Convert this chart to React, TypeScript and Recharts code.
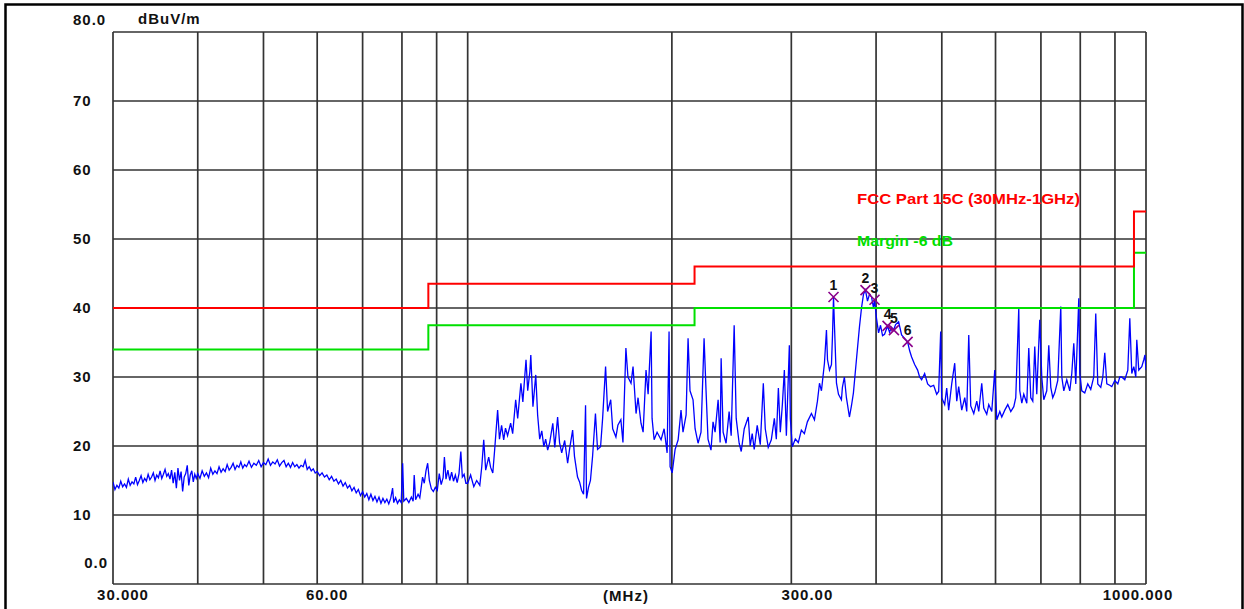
import React from "react";
import {
  ComposedChart,
  Line,
  Scatter,
  XAxis,
  YAxis,
  CartesianGrid,
} from "recharts";

// frequency axis (MHz, log) and level axis (dBuV/m)
const freqTicks = [30, 40, 50, 60, 70, 80, 90, 100, 200, 300, 400, 500, 600, 700, 800, 900, 1000];
const freqLabels: Record<number, string> = { 30: "30.000", 60: "60.00", 300: "300.00", 1000: "1000.000" };
const levelTicks = [0, 10, 20, 30, 40, 50, 60, 70, 80];

// FCC Part 15C limit and the -6 dB margin line
const limitFreq = [30, 87.5, 87.5, 216, 216, 960, 960, 1000];
const limitLevel = [40, 40, 43.5, 43.5, 46, 46, 54, 54];
const marginLevel = [34, 34, 37.5, 37.5, 40, 40, 48, 48];

// measured peaks
const markerNo = ["1", "2", "3", "4", "5", "6"];
const markerFreq = [346.2, 385.9, 397.9, 415.9, 425.0, 445.2];
const markerLevel = [41.6, 42.6, 41.2, 37.4, 36.8, 35.1];

// scan trace
const traceFreq = [
  30.0, 30.2, 30.4, 30.6, 30.8, 31.0, 31.2, 31.4, 31.6, 31.8, 32.0, 32.2, 32.4, 32.6, 32.8, 33.0,
  33.2, 33.4, 33.6, 33.8, 34.0, 34.2, 34.4, 34.6, 34.8, 35.0, 35.2, 35.4, 35.6, 35.8, 36.0, 36.2,
  36.4, 36.6, 36.8, 37.0, 37.2, 37.4, 37.6, 37.8, 38.0, 38.2, 38.4, 38.6, 38.8, 39.0, 39.2, 39.4,
  39.6, 39.8, 40.0,
  40.3, 40.6, 40.9, 41.2, 41.5, 41.8, 42.1, 42.4, 42.7, 43.0, 43.3, 43.6, 43.9, 44.2, 44.5, 44.8,
  45.1, 45.4, 45.7, 46.0, 46.3, 46.6, 46.9, 47.2, 47.6, 48.0, 48.4, 48.8, 49.2, 49.6, 50.0, 50.4,
  50.8, 51.2, 51.6, 52.0, 52.4, 52.8, 53.2, 53.6, 54.0, 54.4, 54.8, 55.2, 55.6, 56.0, 56.4, 56.8,
  57.2, 57.6, 58.0, 58.4, 58.8, 59.2, 59.6, 60.0,
  60.5, 61.0, 61.5, 62.0, 62.5, 63.0, 63.5, 64.0, 64.5, 65.0, 65.5, 66.0, 66.5, 67.0, 67.5, 68.0,
  68.5, 69.0, 69.5, 70.0, 70.5, 71.0, 71.5, 72.0, 72.5, 73.0, 73.5, 74.0, 74.5, 75.0, 75.5, 76.0,
  76.5, 77.0, 77.5, 77.8, 78.3, 78.8, 79.3, 79.8,
  80.2, 80.5, 81.2, 81.9, 82.6, 83.1, 83.4,
  83.8, 84.5, 85.0, 85.3, 85.8, 86.3, 86.8, 87.3, 87.8, 88.4, 89.0, 89.6, 90.2, 90.8, 91.4, 92.0,
  92.4, 92.9, 93.5, 94.1, 94.7, 95.3, 95.9, 96.5, 97.1, 97.7, 98.2, 98.8, 99.4, 100.0,
  101.0, 102.1, 103.1, 104.2, 104.9, 105.6, 106.3, 107.4, 108.1, 108.9, 109.6, 110.7, 111.4, 112.2,
  113.0, 113.7, 114.5, 115.7, 116.5, 117.7, 118.5, 119.8, 120.6, 121.9, 122.6, 123.5, 123.9, 124.8,
  126.0, 126.8, 127.7, 128.6, 129.5, 130.3, 131.2, 132.1, 133.5, 134.4, 135.7, 136.6, 137.6, 139.0,
  140.4, 141.3, 142.8, 143.7, 145.2, 146.2, 147.2, 148.2, 149.2, 149.7, 150.7, 151.7, 152.8, 154.3,
  155.4, 157.0, 158.1, 159.7, 160.8, 162.5, 163.6, 165.4, 166.5, 168.2, 169.4, 171.1, 172.3, 174.1,
  175.3, 177.1, 178.3, 180.1, 181.4, 183.2, 184.5, 186.4, 187.0, 188.3, 190.2, 192.8, 194.8, 196.8,
  198.1, 198.8, 200.2, 202.2, 204.3, 206.3, 207.7, 209.9, 211.3, 212.7, 214.9, 216.4, 218.6, 220.8,
  223.1, 224.6, 226.1, 228.4, 230.0, 231.6, 234.0, 235.6, 236.4, 238.0, 240.4, 242.9, 244.6, 247.1,
  248.8, 251.3, 253.1, 255.7, 259.2, 260.9, 262.7, 264.5, 267.2, 270.0, 272.8, 274.6, 277.4, 280.3,
  283.2, 285.1, 287.1, 289.0, 291.0, 293.0, 295.0, 298.0, 299.0, 301.0, 304.1, 307.2, 310.4, 313.6,
  316.8, 321.2, 324.5, 327.8, 330.1, 332.3, 335.7, 338.0, 339.2, 341.5, 343.8, 345.0, 346.2, 347.3,
  349.7, 352.1, 355.6, 356.8, 359.2, 361.7, 365.4, 367.9, 370.4, 374.2, 378.1, 380.7, 383.3, 385.9,
  388.5, 391.2, 393.9, 396.5, 397.9, 400.6, 403.4, 406.1, 408.9, 411.7, 414.5, 415.9, 418.7, 421.6,
  424.5, 427.4, 431.8, 436.2, 440.7, 445.2, 448.3, 451.3, 456.0, 460.6, 463.7, 466.9, 471.7, 476.5,
  481.4, 486.4, 491.4, 494.7, 498.1, 499.8, 504.9, 508.4, 511.8, 517.1, 522.4, 526.0, 529.5, 535.0,
  540.5, 544.2, 547.9, 551.6, 557.3, 563.0, 566.8, 572.6, 576.5, 582.4, 586.4, 592.4, 598.5, 602.6,
  608.8, 612.9, 619.2, 625.5, 631.9, 638.4, 642.7, 649.3, 651.5, 656.0, 660.4, 667.2, 671.7, 676.3,
  680.9, 685.5, 690.2, 697.2, 702.0, 706.8, 714.0, 718.9, 723.8, 728.7, 733.7, 741.2, 748.8, 751.4,
  756.5, 764.2, 772.0, 777.3, 782.6, 787.9, 796.0, 798.7, 804.1, 812.3, 820.6, 829.0, 837.5, 843.2,
  849.0, 857.7, 863.6, 869.4, 875.4, 884.3, 890.4, 899.5, 908.7, 914.9, 921.1, 930.5, 940.1, 946.5,
  952.9, 959.4, 965.9, 969.2, 975.8, 985.8, 992.5, 996.5, 1000.0,
];
const traceLevel = [
  14.8, 13.7, 14.3, 13.9, 14.9, 14.1, 14.5, 14.0, 15.2, 14.3, 14.8, 14.5, 15.5, 14.4, 15.0, 15.7,
  14.7, 15.3, 14.9, 15.9, 15.1, 15.5, 16.1, 15.0, 15.8, 15.4, 16.4, 15.3, 15.9, 16.6, 15.6, 16.0,
  15.2, 16.5, 14.6, 16.2, 13.9, 16.8, 15.0, 16.3, 13.4, 15.5, 16.0, 17.2, 14.3, 15.8, 16.4, 14.8,
  15.9, 15.3, 16.0,
  15.3, 16.4, 15.6, 16.1, 15.4, 16.8, 15.9, 16.4, 16.0, 17.0, 16.2, 16.7, 16.3, 17.3, 16.5, 16.9,
  17.5, 16.6, 17.2, 16.9, 17.7, 16.8, 17.3, 17.0, 17.8, 16.9, 17.5, 17.2, 17.9, 17.0, 17.6, 17.3,
  18.1, 17.2, 17.7, 17.4, 18.0, 17.1, 17.6, 17.9, 17.0, 17.5, 16.9, 17.6, 17.0, 17.3, 16.8, 17.2,
  17.0, 17.9, 16.6, 17.0, 16.4, 16.7, 16.1, 16.3,
  15.7, 16.1, 15.5, 15.8, 15.1, 15.6, 14.9, 15.2, 14.5, 15.0, 14.2, 14.7, 13.9, 14.3, 13.5, 14.0,
  13.2, 13.7, 12.8, 13.4, 12.6, 13.1, 12.2, 13.0, 12.1, 12.7, 11.9, 12.6, 11.7, 12.4, 11.8, 12.3,
  11.6, 12.4, 13.9, 11.8, 12.5, 11.7, 12.2, 11.8,
  17.5, 12.0, 12.4, 11.8, 12.6, 12.0, 15.8,
  12.2, 13.0, 12.5, 13.6, 15.5, 14.6, 16.4, 17.5, 15.0, 13.8, 13.4, 14.0, 13.6, 16.0, 14.4, 15.4,
  18.4, 15.2, 16.5, 15.0, 16.2, 14.9, 15.8, 14.7, 16.0, 19.2, 15.5, 15.9, 14.6, 14.6,
  15.8, 14.1, 15.0, 14.3, 17.0, 20.9, 16.5, 18.4, 16.9, 16.1, 19.5, 25.2, 21.0, 23.0,
  20.9, 22.6, 21.5, 23.3, 21.8, 26.7, 24.0, 29.1, 26.4, 32.5, 28.0, 30.8, 33.2, 25.7,
  30.3, 24.5, 21.0, 22.2, 19.9, 21.0, 19.4, 20.5, 23.3, 19.8, 24.2, 20.5, 19.0, 20.8,
  17.5, 19.5, 22.3, 18.5, 15.5, 14.8, 13.6, 13.0, 25.9, 12.4, 14.0, 15.0, 18.5, 24.7,
  19.5, 19.9, 24.0, 31.5, 25.0, 26.7, 22.5, 21.3, 23.0, 23.8, 20.5, 34.2, 30.0, 29.1,
  31.5, 24.7, 27.0, 23.3, 22.0, 31.0, 27.5, 36.6, 24.0, 20.9, 22.0, 20.9, 22.5, 19.0,
  36.6, 17.0, 16.1, 19.5, 20.9, 25.2, 22.0, 24.5, 35.6, 28.0, 26.7, 22.5, 20.4, 22.0,
  35.6, 28.0, 21.0, 19.4, 23.5, 22.0, 26.7, 20.5, 32.7, 22.0, 20.4, 25.0, 21.5, 37.5,
  24.0, 20.4, 19.2, 22.5, 24.2, 20.0, 21.8, 19.5, 23.0, 20.2, 29.1, 22.5, 19.8, 20.9,
  24.0, 21.0, 28.4, 22.0, 26.0, 31.0, 21.5, 34.6, 24.0, 19.9, 21.0, 20.5, 22.3, 21.8,
  23.5, 24.7, 23.8, 26.5, 29.1, 28.0, 32.0, 36.8, 32.5, 31.0, 31.8, 36.0, 41.6, 37.5,
  29.1, 27.5, 26.7, 28.5, 30.0, 27.0, 24.2, 25.8, 27.7, 32.5, 37.3, 40.0, 42.0, 42.6,
  41.0, 42.0, 41.6, 40.0, 41.2, 38.5, 36.4, 37.5, 36.0, 36.2, 37.0, 37.4, 36.5, 37.2,
  36.8, 37.6, 38.0, 36.1, 35.6, 35.1, 33.8, 32.9, 31.8, 31.0, 30.0, 29.6, 30.5, 29.0,
  28.6, 28.8, 27.5, 27.9, 36.6, 27.0, 26.0, 28.4, 25.2, 29.0, 32.0, 26.5, 28.6, 25.2,
  27.0, 25.0, 36.1, 25.8, 24.7, 26.5, 25.0, 29.1, 25.5, 24.6, 26.0, 25.0, 31.0, 23.8,
  25.0, 24.2, 25.2, 26.0, 25.0, 25.7, 27.0, 40.0, 28.0, 26.2, 27.5, 26.2, 34.2, 27.0,
  26.5, 34.4, 27.5, 38.3, 30.0, 26.7, 28.0, 34.6, 28.5, 27.0, 27.7, 29.5, 40.2, 30.0,
  28.0, 29.6, 28.0, 30.5, 34.9, 29.0, 41.4, 30.5, 28.0, 27.7, 29.0, 28.2, 30.0, 39.2,
  29.0, 28.5, 30.0, 33.5, 29.0, 28.8, 28.6, 29.5, 29.0, 30.0, 30.0, 29.6, 31.0, 38.5,
  30.5, 31.5, 30.0, 35.4, 31.0, 31.5, 32.5, 33.2, 31.0,
];

const trace = traceFreq.map((f, i) => ({ f, v: traceLevel[i] }));
const limit = limitFreq.map((f, i) => ({ f, v: limitLevel[i] }));
const margin = limitFreq.map((f, i) => ({ f, v: marginLevel[i] }));
const markers = markerFreq.map((f, i) => ({ f, v: markerLevel[i], n: markerNo[i] }));

const labelFont = {
  fontFamily: "'Liberation Sans', Arial, sans-serif",
  fontSize: 15,
  fontWeight: 700,
  letterSpacing: 1,
  fill: "#111",
};

// label nudges relative to their gridline
const freqLabelShift: Record<number, number> = { 30: 10, 60: 10, 300: 16, 1000: -8 };

const FreqTick = (props: any) => {
  const { x, y, payload } = props;
  const label = freqLabels[payload.value];
  if (!label) return <g />;
  return (
    <text x={x + freqLabelShift[payload.value]} y={y + 16} textAnchor="middle" style={labelFont}>
      {label}
    </text>
  );
};

const LevelTick = (props: any) => {
  const { x, y, payload } = props;
  const v = payload.value;
  if (v === 80)
    return (
      <text x={x - 40} y={y - 7} style={labelFont}>
        80.0
      </text>
    );
  if (v === 0)
    return (
      <text x={x - 5} y={y - 16} textAnchor="end" style={labelFont}>
        0.0
      </text>
    );
  return (
    <text x={x - 40} y={y + 5} style={labelFont}>
      {v}
    </text>
  );
};

const PeakMark = (props: any) => {
  const { cx, cy, payload } = props;
  const s = 5;
  return (
    <g>
      <path
        d={`M${cx - s},${cy - s}L${cx + s},${cy + s}M${cx + s},${cy - s}L${cx - s},${cy + s}`}
        stroke="#8a008a"
        strokeWidth={1.6}
      />
      <text
        x={cx}
        y={cy - 7}
        textAnchor="middle"
        style={{ ...labelFont, fontSize: 14, letterSpacing: 0 }}
      >
        {payload.n}
      </text>
    </g>
  );
};

const App: React.FC = () => {
  return (
    <div
      style={{
        position: "absolute",
        left: 0,
        top: 0,
        width: 1244,
        height: 609,
        background: "#fff",
        overflow: "hidden",
      }}
    >
      <ComposedChart
        width={1244}
        height={609}
        margin={{ top: 32, right: 98, bottom: 0, left: 53 }}
      >
        <CartesianGrid stroke="#333" strokeWidth={1.7} />
        <XAxis
          dataKey="f"
          type="number"
          scale="log"
          domain={[30, 1000]}
          allowDataOverflow
          ticks={freqTicks}
          height={25}
          axisLine={false}
          tickLine={false}
          tickSize={0}
          tickMargin={0}
          interval={0}
          tick={<FreqTick />}
        />
        <YAxis
          dataKey="v"
          type="number"
          domain={[0, 80]}
          ticks={levelTicks}
          width={60}
          axisLine={false}
          tickLine={false}
          tickSize={0}
          tickMargin={0}
          interval={0}
          tick={<LevelTick />}
        />
        <Line
          data={trace}
          dataKey="v"
          stroke="#0000ff"
          strokeWidth={1.3}
          dot={false}
          isAnimationActive={false}
        />
        <Line
          data={margin}
          dataKey="v"
          stroke="#00e000"
          strokeWidth={2}
          dot={false}
          isAnimationActive={false}
        />
        <Line
          data={limit}
          dataKey="v"
          stroke="#ff0000"
          strokeWidth={2}
          dot={false}
          isAnimationActive={false}
        />
        <Scatter
          data={markers}
          dataKey="v"
          shape={<PeakMark />}
          isAnimationActive={false}
        />
      </ComposedChart>
      <svg
        width={1244}
        height={609}
        style={{ position: "absolute", left: 0, top: 0, pointerEvents: "none" }}
      >
        <path d="M5.5,609V4.5H1242.5V609" fill="none" stroke="#000" strokeWidth={2.5} />
        <text x={138} y={24} style={labelFont}>
          dBuV/m
        </text>
        <text x={626} y={601} textAnchor="middle" style={labelFont}>
          (MHz)
        </text>
        <text
          x={857}
          y={204}
          textLength={223}
          lengthAdjust="spacingAndGlyphs"
          style={{ ...labelFont, fill: "#ff0000", fontSize: 14, letterSpacing: 0 }}
        >
          FCC Part 15C (30MHz-1GHz)
        </text>
        <text
          x={857}
          y={246}
          textLength={96}
          lengthAdjust="spacingAndGlyphs"
          style={{ ...labelFont, fill: "#00e000", fontSize: 14, letterSpacing: 0 }}
        >
          Margin -6 dB
        </text>
      </svg>
    </div>
  );
};

export default App;
